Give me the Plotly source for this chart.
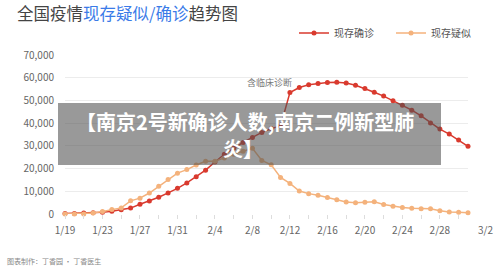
import plotly.graph_objects as go
import pandas as pd

DATES = pd.date_range("2020-01-19", "2020-03-02", freq="D")

CONFIRMED = [190, 270, 400, 500, 770, 1200, 1900, 2600, 4300, 5700,
             7400, 9300, 11300, 13700, 16400, 19300, 22900, 26300, 28900, 31500,
             33700, 35900, 37600, 38800, 53500, 55700, 56900, 57400, 57900, 58000,
             57700, 56700, 55300, 53600, 51900, 49900, 47900, 45700, 43200, 40100,
             37400, 35200, 32600, 29800]

SUSPECTED = [0, 50, 40, 390, 1070, 1970, 2680, 5790, 6970, 9240,
             12170, 15240, 17990, 19540, 21560, 23210, 23260, 24700, 26360, 27660,
             28940, 23590, 21680, 16070, 13440, 10110, 8970, 8230, 7260, 6240,
             5250, 4920, 5210, 5370, 4150, 3430, 2820, 2490, 2360, 2310,
             1420, 850, 720, 590]

TICK_DATES = ["2020-01-19", "2020-01-23", "2020-01-27", "2020-01-31", "2020-02-04",
              "2020-02-08", "2020-02-12", "2020-02-16", "2020-02-20", "2020-02-24",
              "2020-02-28"]
TICK_LABELS = ["1/19", "1/23", "1/27", "1/31", "2/4", "2/8", "2/12", "2/16",
               "2/20", "2/24", "2/28"]
LAST_LABEL = "3/2"
Y_TICKS = [0, 10000, 20000, 30000, 40000, 50000, 60000, 70000]

FONT = "Noto Sans CJK SC"
RED = "#d93a2e"
ORANGE = "#f4b27c"

fig = go.Figure()
fig.add_trace(go.Scatter(
    x=DATES, y=CONFIRMED, name="现存确诊", mode="lines+markers",
    line=dict(color=RED, width=1.5), marker=dict(color=RED, size=5),
    cliponaxis=False))
fig.add_trace(go.Scatter(
    x=DATES, y=SUSPECTED, name="现存疑似", mode="lines+markers",
    line=dict(color=ORANGE, width=1.5), marker=dict(color=ORANGE, size=5),
    cliponaxis=False))

# plot area: x 65..468, y 55..214
L, R, T, B = 65, 468, 55, 214
W, H = R - L, B - T

def px(x):
    return (x - L) / W

def py(y):
    return (B - y) / H

fig.update_layout(
    width=500, height=269,
    margin=dict(l=L, r=500 - R, t=T, b=269 - B, autoexpand=False),
    paper_bgcolor="white", plot_bgcolor="white",
    font=dict(family=FONT, size=10, color="#666"),
    title=dict(
        text="全国疫情<span style='color:#3b7be8'>现存疑似/确诊</span>趋势图",
        x=17 / 500, xanchor="left", xref="container",
        y=1 - 14 / 269, yanchor="middle", yref="container",
        font=dict(family=FONT, size=16.5, color="#444")),
    showlegend=True,
    legend=dict(orientation="h", x=294 / 500, xanchor="left", xref="container",
                y=1 - 33 / 269, yanchor="middle", yref="container",
                itemwidth=30, entrywidth=52,
                font=dict(family=FONT, size=10, color="#555"),
                bgcolor="rgba(0,0,0,0)", traceorder="normal"),
    xaxis=dict(
        type="date", range=[DATES[0], DATES[-1]],
        tickmode="array", tickvals=TICK_DATES, ticktext=TICK_LABELS,
        ticks="outside", ticklen=4, tickcolor="#dddddd",
        minor=dict(dtick=2 * 86400000, tick0="2020-01-19", ticks="outside",
                   ticklen=4, tickcolor="#dddddd", showgrid=False),
        showgrid=False, zeroline=False, showline=False,
        tickfont=dict(family=FONT, size=10, color="#666"),
        ticklabelstandoff=3),
    yaxis=dict(
        range=[0, 70000], tickvals=Y_TICKS, tickformat=",d",
        showgrid=True, gridcolor="#ececec", gridwidth=1,
        zeroline=False, showline=False, ticks="",
        tickfont=dict(family=FONT, size=10, color="#666"),
        ticklabelstandoff=10),
)

fig.add_annotation(x=DATES[-1], xref="x", y=py(229), yref="paper",
                   yanchor="middle", text=LAST_LABEL, showarrow=False, xshift=17,
                   font=dict(family=FONT, size=10, color="#666"))

fig.add_annotation(x="2020-02-12", xref="x", xanchor="right", xshift=4,
                   y=py(82), yref="paper", yanchor="middle",
                   text="含临床诊断", showarrow=False,
                   font=dict(family=FONT, size=9, color="#777"))

fig.add_annotation(x=px(5), xref="paper", xanchor="left",
                   y=py(261), yref="paper", yanchor="middle",
                   text="图表制作：丁香园 · 丁香医生", showarrow=False,
                   font=dict(family=FONT, size=7, color="#888"))

# watermark overlay
fig.add_shape(type="rect", xref="paper", yref="paper",
              x0=px(58), x1=px(441), y0=py(165), y1=py(103),
              fillcolor="rgba(80,80,80,0.58)", line=dict(width=0), layer="above")
fig.add_annotation(x=px(245), xref="paper", y=py(121), yref="paper",
                   yanchor="middle", text="<b>【南京2号新确诊人数,南京二例新型肺</b>",
                   showarrow=False,
                   font=dict(family=FONT, size=20, color="white"))
fig.add_annotation(x=px(243), xref="paper", y=py(148), yref="paper",
                   yanchor="middle", text="<b>炎】</b>",
                   showarrow=False,
                   font=dict(family=FONT, size=20, color="white"))

fig.write_html("out.html")
